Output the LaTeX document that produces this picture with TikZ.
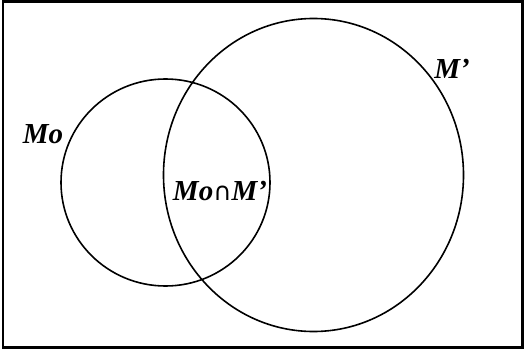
\documentclass[tikz,border=0pt]{standalone}
\usepackage{fontspec}
\setmainfont{Liberation Serif}
\newfontfamily\symfont{DejaVu Sans}
\begin{document}
\begin{tikzpicture}[x=1pt,y=-1pt,
  setline/.style={line width=1.6pt},
  setlabel/.style={font=\fontsize{29}{32}\selectfont\bfseries\itshape, inner sep=0pt}]
\useasboundingbox (0,0) rectangle (524,350);
\draw[line width=2.4pt] (3,1.5) rectangle (522.5,347.5);
\draw[setline] (165.5,182.5) ellipse[x radius=104.5, y radius=103.5];
\draw[setline] (313.5,175) ellipse[x radius=150, y radius=156.5];
\node[setlabel] (mo) at (43,134) {Mo};
\node[setlabel] (mp) at (452,69) {M’};
\node[setlabel] (mi) at (220,191) {Mo{\symfont\mdseries\upshape\fontsize{25}{28}\selectfont ∩}M’};
\end{tikzpicture}
\end{document}
